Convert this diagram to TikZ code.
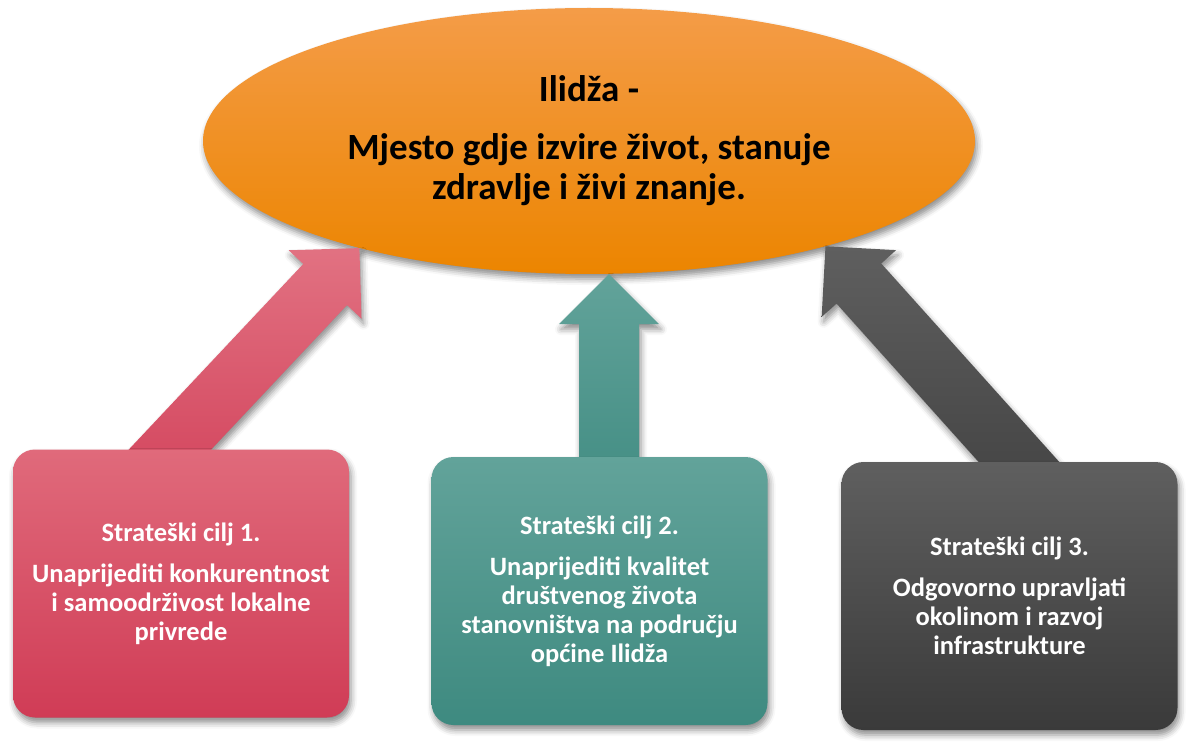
\documentclass[tikz,border=0pt]{standalone}
\usepackage{fontspec}
\setmainfont{Carlito}
\usetikzlibrary{shapes.geometric, shadows.blur, calc}

\definecolor{visiontop}{RGB}{244,156,72}
\definecolor{visionmid}{RGB}{243,146,20}
\definecolor{visionbot}{RGB}{236,133,0}
\definecolor{pinktop}{RGB}{224,106,123}
\definecolor{pinkbot}{RGB}{208,60,86}
\definecolor{tealtop}{RGB}{98,163,154}
\definecolor{tealbot}{RGB}{62,138,128}
\definecolor{greytop}{RGB}{95,95,95}
\definecolor{greybot}{RGB}{58,58,58}

\tikzset{
  softshadow/.style={blur shadow={shadow xshift=2pt, shadow yshift=-5pt, shadow blur radius=6pt, shadow opacity=45}},
  vision/.style={ellipse, minimum width=772pt, minimum height=266pt, inner sep=0pt, align=center,
    top color=visiontop, middle color=visionmid, bottom color=visionbot, softshadow,
    font=\fontsize{37}{40.5}\selectfont\bfseries},
  goalbox/.style={rectangle, rounded corners=22pt, minimum width=336pt, minimum height=268pt, inner sep=0pt,
    align=center, text=white, softshadow, font=\fontsize{26.5}{29}\selectfont\bfseries}
}

% block arrow from #1 (base) to #2 (tip)
\newcommand{\goalarrow}[3]{%
  \coordinate (#1-h) at ($(#2)!50pt!(#1)$);
  \coordinate (#1-s) at ($(#2)!1.15!(#1)$);
  \path[softshadow, #3] ($(#1-s)!30pt!90:(#2)$) -- ($(#1-h)!30pt!90:(#2)$) -- ($(#1-h)!50pt!90:(#2)$)
    -- (#2) -- ($(#1-h)!50pt!-90:(#2)$) -- ($(#1-h)!30pt!-90:(#2)$) -- ($(#1-s)!30pt!-90:(#2)$) -- cycle;}

\begin{document}
\begin{tikzpicture}[x=1pt, y=-1pt]
  \useasboundingbox (0,0) rectangle (1195,751);

  % Vision
  \node[vision] (vision) at (589,141) {Ilidža -\\[17pt] Mjesto gdje izvire život, stanuje\\ zdravlje i živi znanje.};

  % Goal positions
  \coordinate (goal1c) at (181,583.5);
  \coordinate (goal2c) at (599.5,591);
  \coordinate (goal3c) at (1009.5,596);

  % Arrows to the vision
  \coordinate (base1) at ($(goal1c)+(-11,-134)$);
  \coordinate (base2) at ($(goal2c)+(9.5,-134)$);
  \coordinate (base3) at ($(goal3c)+(9.5,-134)$);
  \coordinate (tip1) at (vision.205);
  \coordinate (tip2) at (vision.south -| base2);
  \coordinate (tip3) at (vision.336);
  \goalarrow{base1}{tip1}{top color=pinktop!95!white, bottom color=pinkbot!85!pinktop}
  \goalarrow{base2}{tip2}{top color=tealtop, bottom color=tealbot!85!tealtop}
  \goalarrow{base3}{tip3}{top color=greytop, bottom color=greybot!80!greytop}

  % Strategic goals
  \node[goalbox, top color=pinktop, bottom color=pinkbot] (goal1) at (goal1c)
    {Strateški cilj 1.\\[12pt] Unaprijediti konkurentnost\\ i samoodrživost lokalne\\ privrede};
  \node[goalbox, top color=tealtop, bottom color=tealbot] (goal2) at (goal2c)
    {Strateški cilj 2.\\[12pt] Unaprijediti kvalitet\\ društvenog života\\ stanovništva na području\\ općine Ilidža};
  \node[goalbox, top color=greytop, bottom color=greybot] (goal3) at (goal3c)
    {Strateški cilj 3.\\[12pt] Odgovorno upravljati\\ okolinom i razvoj\\ infrastrukture};
\end{tikzpicture}
\end{document}
